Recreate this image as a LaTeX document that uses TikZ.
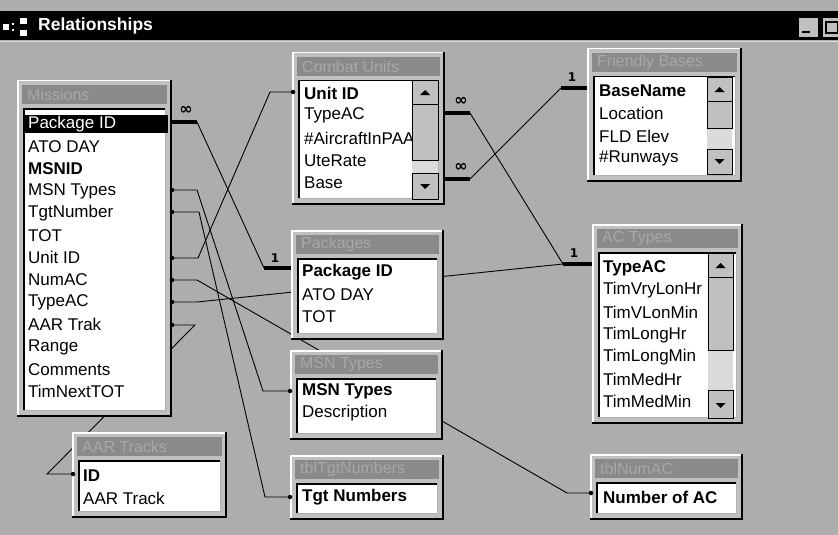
\documentclass[tikz,border=0pt]{standalone}
\usepackage{fontspec}
\setmainfont{Liberation Sans}
\newfontfamily\djv{DejaVu Sans}
\definecolor{bg}{HTML}{ADADAD}
\definecolor{framec}{HTML}{C0C0C0}
\definecolor{tbar}{HTML}{8A8A8A}
\definecolor{ttext}{HTML}{A8A8A8}
\definecolor{track}{HTML}{DADADA}
\newcommand\TBox[6]{%
  \fill[framec] (#2,#3) rectangle (#4,#5);
  \draw[white, line width=1.5pt] (#2+0.75,#5) -- (#2+0.75,#3+0.75) -- (#4,#3+0.75);
  \draw[black, line width=2pt] (#2,#5-1) -- (#4-1,#5-1) -- (#4-1,#3);
  \fill[tbar] (#2+5,#3+5) rectangle (#4-5,#3+24);
  \node[ttl, name=#1-t] at (#2+10,#3+14.5) {#6};
  \fill[white] (#2+6,#3+28) rectangle (#4-6,#5-6);
  \draw[black, line width=1.5pt] (#2+6.75,#5-6) -- (#2+6.75,#3+28.75) -- (#4-6,#3+28.75);
  \draw[gray!60, line width=0.8pt] (#2+6,#5-6.4) -- (#4-6.4,#5-6.4) -- (#4-6.4,#3+28);
}
% scrollbar: x1,x2,top,thumbbottom,trackbottom,bottom
\newcommand\SBar[6]{%
  \fill[track] (#1,#3) rectangle (#2,#6);
  \fill[framec] (#1,#3) rectangle (#2,#4);
  \draw[black, line width=0.8pt] (#1,#3) rectangle (#2,#4);
  \draw[black, line width=0.8pt] (#1,#3+24) -- (#2,#3+24);
  \fill[framec] (#1,#5) rectangle (#2,#6);
  \draw[black, line width=0.8pt] (#1,#5) rectangle (#2,#6);
  \fill[black] (#1/2+#2/2-5,#3+15) -- (#1/2+#2/2+5,#3+15) -- (#1/2+#2/2,#3+10) -- cycle;
  \fill[black] (#1/2+#2/2-5,#6-15) -- (#1/2+#2/2+5,#6-15) -- (#1/2+#2/2,#6-10) -- cycle;
}
\begin{document}
\begin{tikzpicture}[x=1pt,y=-1pt,
  fld/.style={anchor=west, inner sep=0pt, font=\fontsize{17}{20}\selectfont},
  fldb/.style={anchor=west, inner sep=0pt, font=\fontsize{17}{20}\selectfont\bfseries},
  ttl/.style={anchor=west, inner sep=0pt, text=ttext, font=\fontsize{16}{18}\selectfont},
  rel/.style={line width=0.9pt, black},
  relend/.style={line width=3.2pt, black},
  jdot/.style={circle, fill=black, inner sep=0pt, minimum size=4.5pt},
  card/.style={inner sep=0pt, font=\djv\bfseries\fontsize{12}{12}\selectfont},
  inf/.style={inner sep=0pt, font=\djv\bfseries\fontsize{16}{16}\selectfont}
]
\useasboundingbox (0,0) rectangle (838,535);
\fill[bg] (0,0) rectangle (838,535);
% window title bar
\fill[black] (0,11) rectangle (838,40);
\draw[white!85!black, line width=1pt] (0,41.5) -- (838,41.5);
\fill[white] (3,24) rectangle (9,30);
\fill[white] (12,23) rectangle (14,25);
\fill[white] (12,29) rectangle (14,31);
\fill[white] (20,18) rectangle (27,24);
\fill[white] (20,30) rectangle (27,36);
\node[anchor=west, inner sep=0pt, text=white, font=\fontsize{17.5}{20}\selectfont\bfseries] (wtitle) at (38,26) {Relationships};
\fill[framec] (798,17) rectangle (818,37);
\draw[black, line width=0.8pt] (798,17) rectangle (818,37);
\draw[black, line width=2pt] (802,32) -- (810,32);
\fill[framec] (822,17) rectangle (840,37);
\draw[black, line width=0.8pt] (822,17) rectangle (840,37);
\draw[black, line width=1.5pt] (826,22) rectangle (838,33);

% ---------- connector anchor points ----------
\coordinate (mPkg) at (172,122);  \coordinate (mPkgB) at (197,122);
\coordinate (pPkgB) at (264,268); \coordinate (pPkg) at (291,268);
\coordinate (mMsn) at (172,190);  \coordinate (mMsnB) at (197,190);
\coordinate (sMsnB) at (263,391); \coordinate (sMsn) at (290,391);
\coordinate (mTgt) at (172,212);  \coordinate (mTgtB) at (199,212);
\coordinate (tTgtB) at (265,497); \coordinate (tTgt) at (290,497);
\coordinate (mUnit) at (172,258); \coordinate (mUnitB) at (198,258);
\coordinate (cUnitB) at (270,92); \coordinate (cUnit) at (293,92);
\coordinate (mNum) at (172,280);  \coordinate (mNumB) at (197,280);
\coordinate (nNumB) at (567,493); \coordinate (nNum) at (591,493);
\coordinate (mType) at (172,302); \coordinate (mTypeB) at (197,302);
\coordinate (aTypeB) at (563,264); \coordinate (aType) at (593,264);
\coordinate (mAar) at (172,325);  \coordinate (mAarB) at (195,325);
\coordinate (rAarB) at (47,474);  \coordinate (rAar) at (73,474);
\coordinate (cType) at (445,113); \coordinate (cTypeB) at (470,113);
\coordinate (cBase) at (445,179); \coordinate (cBaseB) at (470,179);
\coordinate (fBaseB) at (561,88); \coordinate (fBase) at (588,88);

% ---------- connectors (behind the tables) ----------
\draw[relend] (mPkg) -- (mPkgB);
\draw[rel] (mPkgB) -- (pPkgB);
\draw[relend] (pPkgB) -- (pPkg);
\node[inf] (infA) at (186,110) {∞};
\node[card] (oneA) at (275,258) {1};

\draw[rel] (mMsn) -- (mMsnB) -- (sMsnB) -- (sMsn);
\draw[rel] (mTgt) -- (mTgtB) -- (tTgtB) -- (tTgt);
\draw[rel] (mUnit) -- (mUnitB) -- (cUnitB) -- (cUnit);
\draw[rel] (mNum) -- (mNumB) -- (nNumB) -- (nNum);
\draw[rel] (mType) -- (mTypeB) -- (aTypeB);
\draw[rel] (mAar) -- (mAarB) -- (rAarB) -- (rAar);

\draw[relend] (cType) -- (cTypeB);
\draw[rel] (cTypeB) -- (aTypeB);
\draw[relend] (aTypeB) -- (aType);
\node[inf] (infB) at (461,101) {∞};
\node[card] (oneB) at (574,253) {1};

\draw[relend] (cBase) -- (cBaseB);
\draw[rel] (cBaseB) -- (fBaseB);
\draw[relend] (fBaseB) -- (fBase);
\node[inf] (infC) at (461,167) {∞};
\node[card] (oneC) at (572,77) {1};

% ---------- tables ----------
% Missions
\TBox{missions}{17}{80}{172}{417}{Missions}
\fill[black] (25,115) rectangle (168,133);
\node[fld, text=white] (m1) at (28,124) {Package ID};
\node[fld] (m2) at (28,146.3) {ATO DAY};
\node[fldb] (m3) at (28,168.6) {MSNID};
\node[fld] (m4) at (28,190.9) {MSN Types};
\node[fld] (m5) at (28,213.2) {TgtNumber};
\node[fld] (m6) at (28,235.5) {TOT};
\node[fld] (m7) at (28,257.8) {Unit ID};
\node[fld] (m8) at (28,280.1) {NumAC};
\node[fld] (m9) at (28,302.4) {TypeAC};
\node[fld] (m10) at (28,324.7) {AAR Trak};
\node[fld] (m11) at (28,347) {Range};
\node[fld] (m12) at (28,369.3) {Comments};
\node[fld] (m13) at (28,391.6) {TimNextTOT};

% Combat Units
\TBox{combat}{292}{52}{445}{205}{Combat Units}
\begin{scope}
\clip (298,80) rectangle (412,199);
\node[fldb] (c1) at (304,93) {Unit ID};
\node[fld] (c2) at (304,115.5) {TypeAC};
\node[fld] (c3) at (304,138) {\#AircraftInPAA};
\node[fld] (c4) at (304,160.5) {UteRate};
\node[fld] (c5) at (304,183) {Base};
\end{scope}
\SBar{412}{438}{80}{160}{173}{199}

% Friendly Bases
\TBox{bases}{587}{48}{742}{182}{Friendly Bases}
\begin{scope}
\clip (593,76) rectangle (707,176);
\node[fldb] (f1) at (599,91) {BaseName};
\node[fld] (f2) at (599,113.5) {Location};
\node[fld] (f3) at (599,136) {FLD Elev};
\node[fld] (f4) at (599,158.5) {\#Runways};
\end{scope}
\SBar{707}{732}{77}{128}{149}{174}

% Packages
\TBox{packages}{291}{230}{444}{340}{Packages}
\node[fldb] (p1) at (302,272) {Package ID};
\node[fld] (p2) at (302,294.5) {ATO DAY};
\node[fld] (p3) at (302,317) {TOT};

% MSN Types
\TBox{msntypes}{290}{350}{443}{440}{MSN Types}
\node[fldb] (s1) at (302,391) {MSN Types};
\node[fld] (s2) at (302,413.5) {Description};

% AAR Tracks
\TBox{aar}{72}{432}{227}{518}{AAR Tracks}
\node[fldb] (r1) at (83,476) {ID};
\node[fld] (r2) at (83,498.5) {AAR Track};

% tblTgtNumbers
\TBox{tgt}{290}{455}{444}{520}{tblTgtNumbers}
\node[fldb] (t1) at (302,497.5) {Tgt Numbers};

% AC Types
\TBox{actypes}{592}{224}{743}{424}{AC Types}
\begin{scope}
\clip (598,252) rectangle (708,418);
\node[fldb] (a1) at (603,268) {TypeAC};
\node[fld] (a2) at (603,290.3) {TimVryLonHr};
\node[fld] (a3) at (603,312.6) {TimVLonMin};
\node[fld] (a4) at (603,334.9) {TimLongHr};
\node[fld] (a5) at (603,357.2) {TimLongMin};
\node[fld] (a6) at (603,379.5) {TimMedHr};
\node[fld] (a7) at (603,401.8) {TimMedMin};
\end{scope}
\SBar{708}{733}{253}{350}{390}{418}

% tblNumAC
\TBox{numac}{590}{454}{743}{520}{tblNumAC}
\node[fldb] (n1) at (603,497.5) {Number of AC};

% join dots
\foreach \p in {mMsn,sMsn,mTgt,tTgt,mUnit,cUnit,mNum,nNum,mType,mAar,rAar}
  \node[jdot] at (\p) {};
\end{tikzpicture}
\end{document}
